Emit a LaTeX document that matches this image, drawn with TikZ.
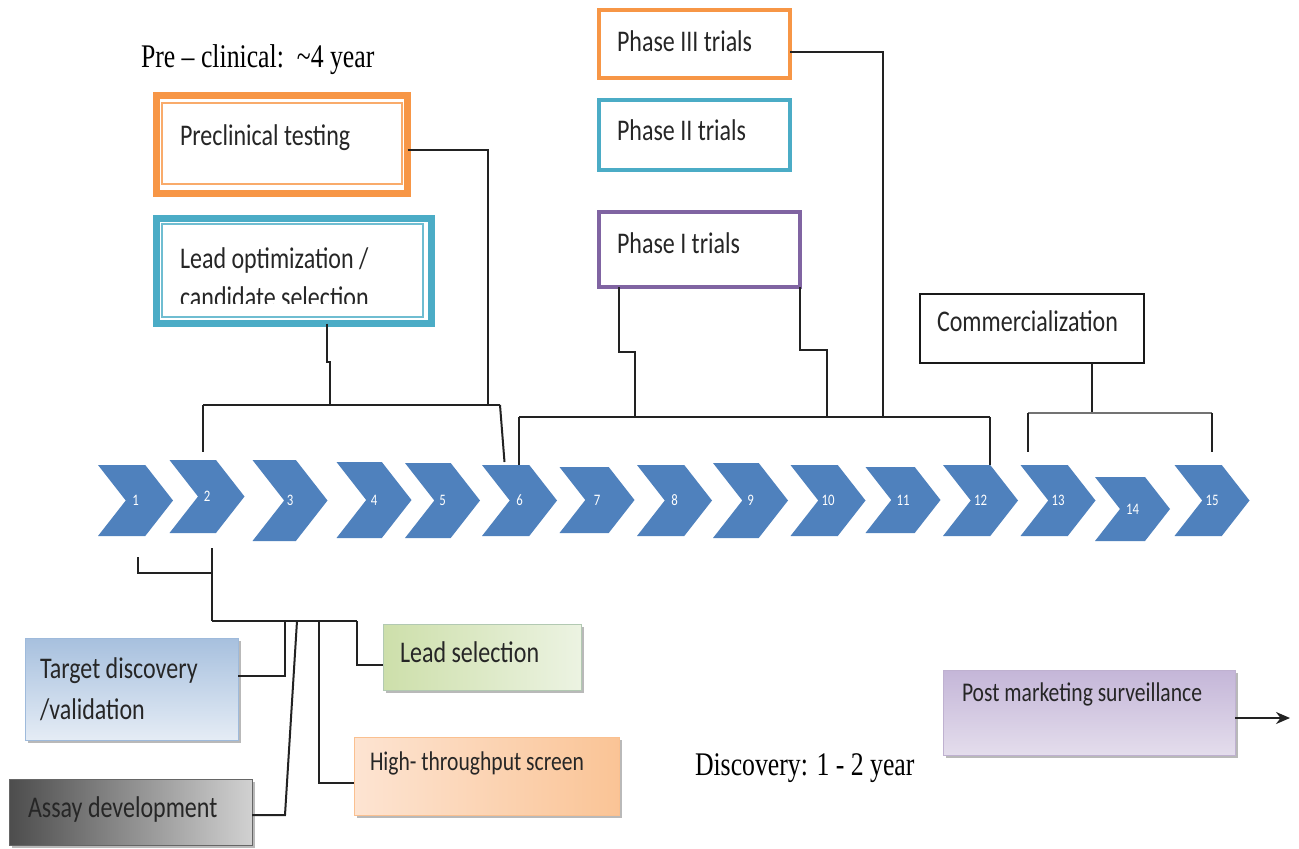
\documentclass[tikz,border=0pt]{standalone}
\usepackage{fontspec}
\setmainfont{Carlito}[FakeStretch=0.8]
\newfontfamily\serifont{Liberation Serif}[FakeStretch=0.78]
\usetikzlibrary{shapes.symbols,shadows,arrows.meta}
\definecolor{chev}{HTML}{4F81BD}
\definecolor{orng}{HTML}{F79646}
\definecolor{tealc}{HTML}{4BACC6}
\definecolor{purp}{HTML}{8064A2}
\definecolor{lnk}{HTML}{222222}
\tikzset{
  chevron/.style={shape=signal, signal to=east, signal from=west, signal pointer angle=104,
    fill=chev, draw=none, text=white, font=\fontsize{16}{16}\selectfont,
    inner sep=0pt, outer sep=0pt, minimum width=75pt},
  txt/.style={anchor=base west, inner sep=0pt, outer sep=0pt, text=black!85, font=\fontsize{30}{36}\selectfont},
  stxt/.style={txt, font=\fontsize{27}{32}\selectfont},
  sertxt/.style={anchor=base west, inner sep=0pt, outer sep=0pt, text=black, font=\serifont\fontsize{33}{40}\selectfont},
  frame/.style={draw, inner sep=0pt, outer sep=0pt},
  conn/.style={draw=lnk, line width=2pt},
  shbox/.style={inner sep=0pt, outer sep=0pt, line width=0.8pt,
    drop shadow={shadow xshift=3pt, shadow yshift=-3pt, fill=black!50, opacity=.55}},
}
\begin{document}
\begin{tikzpicture}[x=1pt,y=-1pt]
\useasboundingbox[fill=white] (0,0) rectangle (1299,849);

% ---------- chevrons ----------
\node[chevron, minimum height=71pt] (c1)  at (135.5,500.5) {1};
\node[chevron, minimum height=73pt] (c2)  at (207,496.5)   {2};
\node[chevron, minimum height=81pt] (c3)  at (290,500.5)   {3};
\node[chevron, minimum height=76pt] (c4)  at (374,500)     {4};
\node[chevron, minimum height=75pt] (c5)  at (442.5,500.5) {5};
\node[chevron, minimum height=71pt] (c6)  at (519.5,500.5) {6};
\node[chevron, minimum height=66pt] (c7)  at (597,500)     {7};
\node[chevron, minimum height=71pt] (c8)  at (674.5,500.5) {8};
\node[chevron, minimum height=75pt] (c9)  at (750.5,500.5) {9};
\node[chevron, minimum height=71pt] (c10) at (828,500.5)   {10};
\node[chevron, minimum height=66pt] (c11) at (903,500)     {11};
\node[chevron, minimum height=71pt] (c12) at (980.5,500.5) {12};
\node[chevron, minimum height=71pt] (c13) at (1058,500.5)  {13};
\node[chevron, minimum height=64pt] (c14) at (1132.5,509)  {14};
\node[chevron, minimum height=71pt] (c15) at (1212,500.5)  {15};

% ---------- timeline texts ----------
\node[sertxt] (tpre) at (141,67) {Pre – clinical:\ \ \textasciitilde4 year};
\node[sertxt] (tdisc) at (695,775) {Discovery: 1 - 2 year};

% ---------- preclinical boxes ----------
\node[frame, draw=orng, line width=7pt, minimum width=251pt, minimum height=98pt] (pre) at (282,144.5) {};
\draw[orng!80, line width=1.6pt] (162,103) rectangle (402,184);
\node[txt] (tpret) at (180,145) {Preclinical testing};

\node[frame, draw=tealc, line width=7pt, minimum width=275pt, minimum height=105pt] (lead) at (294,271) {};
\draw[tealc!80, line width=1.6pt] (162,224) rectangle (423,317);
\node[txt] (tlead1) at (180,268) {Lead optimization /};
\begin{scope}
  \clip (165,280) rectangle (420,303);
  \node[txt] (tlead2) at (180,307) {candidate selection};
\end{scope}

% ---------- clinical boxes ----------
\node[frame, draw=orng, line width=4pt, minimum width=191pt, minimum height=68pt] (p3) at (694.5,44) {};
\node[txt] (tp3) at (617,51) {Phase III trials};
\node[frame, draw=tealc, line width=4pt, minimum width=191pt, minimum height=70pt] (p2) at (694.5,135) {};
\node[txt] (tp2) at (617,140) {Phase II trials};
\node[frame, draw=purp, line width=4pt, minimum width=201pt, minimum height=75pt] (p1) at (699.5,249.5) {};
\node[txt] (tp1) at (617,253) {Phase I trials};

\node[frame, draw=black!90, line width=2pt, minimum width=224pt, minimum height=69pt] (com) at (1032,328.5) {};
\node[txt] (tcom) at (937,331) {Commercialization};

% ---------- bottom boxes ----------
\node[shbox, draw=chev!55, top color=chev!50, bottom color=chev!15, minimum width=213pt, minimum height=102pt] (target) at (131.5,689) {};
\node[txt] (ttar1) at (40,678) {Target discovery};
\node[txt] (ttar2) at (40,719) {/validation};

\node[shbox, draw=black!60, left color=black!70, right color=black!18, minimum width=243pt, minimum height=66pt] (assay) at (130.5,812) {};
\node[txt] (tassay) at (28,817) {Assay development};

\node[shbox, draw=green!30!black!30, left color={rgb,255:red,205;green,223;blue,170}, right color={rgb,255:red,236;green,243;blue,226}, minimum width=198pt, minimum height=66pt] (lsel) at (482,657) {};
\node[txt] (tlsel) at (400,662) {Lead selection};

\node[shbox, draw=orng!60, left color={rgb,255:red,253;green,228;blue,210}, right color={rgb,255:red,250;green,196;blue,150}, minimum width=265pt, minimum height=78pt] (hts) at (486.5,776) {};
\node[stxt] (thts) at (370,770) {High- throughput screen};

\node[shbox, draw=purp!50, top color={rgb,255:red,196;green,182;blue,216}, bottom color={rgb,255:red,228;green,221;blue,236}, minimum width=292pt, minimum height=85pt] (post) at (1089,712.5) {};
\node[stxt] (tpost) at (962,701) {Post marketing surveillance};

% ---------- coordinates for brackets ----------
\coordinate (b1l) at (203,405);
\coordinate (b1e) at (500,405);
\coordinate (b1r) at (488,405);
\coordinate (lo1) at (327,362);
\coordinate (lo2) at (330,362);
\coordinate (b2l) at (519,417);
\coordinate (b2r) at (990,417);
\coordinate (q1) at (619,352);
\coordinate (q2) at (635,352);
\coordinate (q4) at (827,350);
\coordinate (q5) at (883,417);
\coordinate (b3l) at (1028,413);
\coordinate (b3r) at (1212,413);
\coordinate (b3m) at (1092,413);
\coordinate (e2) at (212,573);
\coordinate (hub1) at (212,621);
\coordinate (hub2) at (357,621);
\coordinate (ha) at (285,621);
\coordinate (hb) at (297,621);
\coordinate (hb2) at (285,815);
\coordinate (hc) at (319,621);
\coordinate (pend) at (1290,718);

% ---------- preclinical connectors ----------
\draw[conn] ([yshift=-5pt]pre.east) -| (b1r);
\draw[conn] (b1l) -- (b1e);
\draw[conn, shorten >=8pt] (b1l) -- (b1l |- c2.north);
\draw[conn] (b1e) -- ([xshift=-15pt,yshift=3pt]c6.north);
\draw[conn] (lead.south -| lo1) -- (lo1) -- (lo2) -- (lo2 |- b1l);

% ---------- clinical connectors ----------
\draw[conn] (b2l) -- (b2r);
\draw[conn] (b2l) -- (b2l |- c6.north);
\draw[conn] (b2r) -- (b2r |- c12.north);
\draw[conn] (p1.south -| q1) -- (q1) -- (q2) -- (q2 |- b2l);
\draw[conn] (p1.south east) |- (q4) -- (q4 |- b2l);
\draw[conn] ([yshift=-8pt]p3.east) -| (q5);

% ---------- commercialization ----------
\draw[conn] (com.south -| b3m) -- (b3m);
\draw[conn, draw=black!55] (b3l) -- (b3r);
\draw[conn, shorten >=13pt] (b3l) -- (b3l |- c13.north);
\draw[conn, shorten >=13pt] (b3r) -- (b3r |- c15.north);

% ---------- discovery connectors ----------
\draw[conn] ([xshift=2pt,yshift=-21pt]c1.south) |- (e2);
\draw[conn] ([xshift=5pt,yshift=-15pt]c2.south) -- (hub1);
\draw[conn] (hub1) -- (hub2);
\draw[conn] (ha) |- ([yshift=13pt]target.east);
\draw[conn] (hb) -- (hb2) -- (assay.east |- hb2);
\draw[conn] (hc) |- ([yshift=-7pt]hts.west);
\draw[conn] (hub2) |- ([yshift=-8pt]lsel.west);

% ---------- post marketing arrow ----------
\draw[conn, -{Stealth[length=14pt,width=12pt]}] (post.east |- pend) -- (pend);
\end{tikzpicture}
\end{document}
